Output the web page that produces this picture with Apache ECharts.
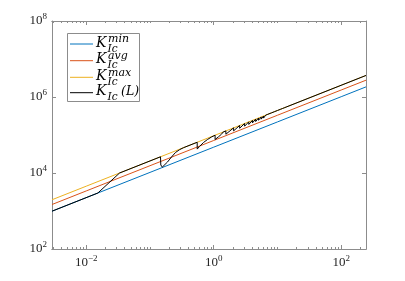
<!DOCTYPE html>
<html><head><meta charset="utf-8">
<script src="https://cdn.jsdelivr.net/npm/echarts@6/dist/echarts.min.js"></script>
<style>html,body{margin:0;padding:0;background:#fff}#c{width:405px;height:281px}</style>
</head><body><div id="c"></div>
<script>
// ---- data ----
const lineL = [0.0029, 0.01, 0.1, 1, 10, 100, 245];
const kMin  = [988, 2249, 10370, 47860, 220800, 1018000, 1846000];
const kAvg  = [1482, 3374, 15560, 71790, 331200, 1527000, 2769000];
const kMax  = [1976, 4498, 20740, 95720, 441600, 2036000, 3692000];
const blackL = [0.0029, 0.0152, 0.0333, 0.1462, 0.1478, 0.156, 0.1883, 0.2176, 0.2514, 0.2904, 0.3356,
  0.55, 0.551, 0.598, 0.6912, 0.799, 0.9228, 1.05, 1.051, 1.188, 1.3244, 1.41, 1.55, 1.551,
  2.05, 2.051, 2.55, 2.551, 3.05, 3.051, 3.55, 3.551, 4.05, 4.051, 4.55, 4.551, 5.05, 5.051,
  5.55, 5.551, 6.05, 6.051, 6.55, 6.551, 7.05, 7.051, 7.55, 7.551, 8.05, 8.051, 8.55, 8.551,
  9.05, 9.051, 9.55, 9.551, 10.05, 10.051, 10.55, 10.551, 11.05, 11.051, 11.55, 11.551,
  12.05, 12.051, 12.55, 12.551, 13.05, 13.051, 13.55, 13.551, 14.05, 14.051, 14.55, 14.551, 15.05, 245];
const blackK = [988, 2972, 10000, 26710, 16240, 14300, 19480, 26370, 34640, 41040, 46370,
  64360, 42600, 49830, 63480, 76140, 88600, 98870, 76130, 89680, 105000, 120300, 128050, 104870,
  154180, 128560, 178210, 150370, 200690, 170390, 222020, 189670, 242310, 208240, 261810, 226390, 280550, 244050,
  298700, 261420, 316280, 278490, 333430, 295420, 350090, 312030, 366320, 328480, 382440, 343970, 398000, 359080,
  413200, 375060, 428240, 389870, 443010, 404560, 457540, 420340, 471820, 434780, 485900, 449120,
  499730, 464750, 513400, 478850, 526940, 493000, 540240, 508470, 553460, 524130, 566480, 539690, 579200, 3692000];
const xRange = [0.0029, 245];
const yRange = [1e2, 1e8];
const xTickExp = [-2, 0, 2];
const yTickExp = [2, 4, 6, 8];
const seriesNames = ['K_Ic^min', 'K_Ic^avg', 'K_Ic^max', 'K_Ic(L)'];
const legendSup = ['min', 'avg', 'max'];

// ---- chart ----
const lg = Math.log10;
const colors = ['#0072BD', '#D95319', '#EDB120', '#000000'];
const xMin = lg(xRange[0]), xMax = lg(xRange[1]);
const yMin = lg(yRange[0]), yMax = lg(yRange[1]);
const xMinor = [];
for (let n = -3; n <= 2; n++) for (let k = 1; k <= 9; k++) {
  const v = n + lg(k);
  if (v > xMin && v < xMax && !(k === 1 && xTickExp.includes(n))) xMinor.push(v);
}
function supLabel(v) { const e = Math.round(v); return '{b|10}{s|' + (e < 0 ? '\u2212' + (-e) : e) + '}'; }
const axisCol = '#8c8c8c';
const textCol = '#262626';
const rich = {
  b: { fontFamily: 'Liberation Serif', fontSize: 13, color: textCol },
  s: { fontFamily: 'Liberation Serif', fontSize: 9, color: textCol, padding: [0, 0, 8, 0] }
};
function ax(isX, pos, ticks, len, labels) {
  return {
    type: 'value', gridIndex: 0, position: pos,
    min: isX ? xMin : yMin, max: isX ? xMax : yMax,
    axisLine: { show: true, onZero: false, lineStyle: { color: axisCol, width: 1 } },
    axisTick: { show: true, inside: true, length: len, customValues: ticks, lineStyle: { color: axisCol, width: 1 } },
    axisLabel: labels ? { show: true, customValues: isX ? xTickExp : yTickExp, formatter: supLabel, rich: rich, margin: isX ? 5 : 5 } : { show: false },
    splitLine: { show: false }
  };
}
function pts(xs, ys) { return xs.map((x, i) => [lg(x), lg(ys[i])]); }
const seriesData = [pts(lineL, kMin), pts(lineL, kAvg), pts(lineL, kMax), pts(blackL, blackK)];

const legendY = [44, 60.7, 77.3, 92.7];
const legendEls = [{ type: 'rect', shape: { x: 67.5, y: 33.5, width: 72, height: 68 }, style: { fill: '#fff', stroke: '#8c8c8c', lineWidth: 1 } }];
const fam = 'DejaVu Serif';
for (let i = 0; i < 4; i++) {
  const y = legendY[i];
  legendEls.push({ type: 'line', shape: { x1: 70, y1: y, x2: 93, y2: y }, style: { stroke: colors[i], lineWidth: 1 } });
  legendEls.push({ type: 'text', x: 96, y: y - 1, style: { text: 'K', fontFamily: fam, fontStyle: 'italic', fontSize: 14, fill: '#000', verticalAlign: 'middle' } });
  legendEls.push({ type: 'text', x: 107.5, y: y + 5, style: { text: 'Ic', fontFamily: fam, fontStyle: 'italic', fontSize: 10.5, fill: '#000', verticalAlign: 'middle' } });
  if (i < 3) {
    legendEls.push({ type: 'text', x: 108, y: y - 4.5, style: { text: legendSup[i], fontFamily: fam, fontStyle: 'italic', fontSize: 11, fill: '#000', verticalAlign: 'middle' } });
  } else {
    legendEls.push({ type: 'text', x: 121, y: y - 0.5, style: { text: '(L)', fontFamily: fam, fontStyle: 'italic', fontSize: 12.5, fill: '#000', verticalAlign: 'middle' } });
  }
}

const chart = echarts.init(document.getElementById('c'), null, { renderer: 'canvas', width: 405, height: 281 });
chart.setOption({
  animation: false,
  backgroundColor: '#fff',
  grid: { left: 52, right: 39, top: 21, bottom: 32, outerBoundsMode: 'none' },
  xAxis: [ax(true, 'bottom', xTickExp, 4, true), ax(true, 'bottom', xMinor, 2, false),
          ax(true, 'top', xTickExp, 4, false), ax(true, 'top', xMinor, 2, false)],
  yAxis: [ax(false, 'left', yTickExp, 4, true), ax(false, 'right', yTickExp, 4, false)],
  series: seriesData.map((d, i) => ({
    name: seriesNames[i], type: 'line', data: d, xAxisIndex: 0, yAxisIndex: 0,
    symbol: 'none', lineStyle: { color: colors[i], width: 1 }, itemStyle: { color: colors[i] }, z: 2 + i
  })),
  graphic: [{ type: 'group', z: 100, children: legendEls }]
});
</script></body></html>
